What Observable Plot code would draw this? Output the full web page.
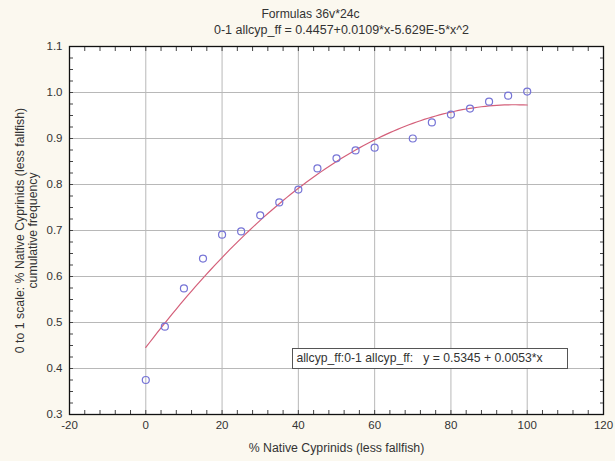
<!DOCTYPE html>
<html>
<head>
<meta charset="utf-8">
<script src="https://cdn.jsdelivr.net/npm/d3@7"></script>
<script src="https://cdn.jsdelivr.net/npm/@observablehq/plot@0.6"></script>
<style>
  html, body { margin: 0; padding: 0; background: #fbf8ef; }
  #wrap { position: relative; width: 615px; height: 461px; font-family: "Liberation Sans", Arial, sans-serif; }
  #legend { position: absolute; left: 292px; top: 348px; width: 274px; height: 19px; border: 1px solid #555; background: #fff;
            font-size: 12.2px; color: #333; line-height: 19px; box-sizing: content-box; padding-left: 0; white-space: pre; }
</style>
</head>
<body>
<div id="wrap"></div>
<script>
const title1 = "Formulas 36v*24c";
const title2 = "0-1 allcyp_ff = 0.4457+0.0109*x-5.629E-5*x^2";
const xLabel = "% Native Cyprinids (less fallfish)";
const yLabel = "0 to 1 scale: % Native Cyprinids (less fallfish)\ncumulative frequency";
const legendText = " allcyp_ff:0-1 allcyp_ff:   y = 0.5345 + 0.0053*x";

const xTicks = [-20, 0, 20, 40, 60, 80, 100, 120];
const yTicks = [0.3, 0.4, 0.5, 0.6, 0.7, 0.8, 0.9, 1.0, 1.1];
const xMinor = d3.range(-20, 121, 4);
const yMinor = d3.range(0.3, 1.1001, 0.025);

const pctNative = [0, 5, 10, 15, 20, 25, 30, 35, 40, 45, 50, 55, 60, 70, 75, 80, 85, 90, 95, 100];
const cumFreq   = [0.375, 0.491, 0.574, 0.639, 0.691, 0.698, 0.733, 0.761, 0.789, 0.835, 0.857, 0.874, 0.880, 0.900, 0.935, 0.952, 0.965, 0.980, 0.993, 1.002];

// fitted curve coefficients stated in the chart title
const fitCoef = [0.4457, 0.0109, -5.629e-5];
const fitX = d3.range(0, 100.01, 1);

const points = pctNative.map((x, i) => ({x, y: cumFreq[i]}));
const curve = fitX.map(x => ({x, y: fitCoef[0] + fitCoef[1] * x + fitCoef[2] * x * x}));

const chart = Plot.plot({
  width: 615,
  height: 461,
  marginLeft: 69,
  marginRight: 12,
  marginTop: 46,
  marginBottom: 47,
  style: {background: "transparent", fontFamily: "Liberation Sans, Arial, sans-serif", fontSize: "11px", color: "#333"},
  x: {domain: [-20, 120]},
  y: {domain: [0.3, 1.1]},
  marks: [
    Plot.frame({fill: "white", stroke: "none"}),
    Plot.gridX(xTicks, {stroke: "#b8b8b8", strokeOpacity: 1}),
    Plot.gridY(yTicks, {stroke: "#b8b8b8", strokeOpacity: 1}),
    Plot.axisX(xMinor, {anchor: "bottom", tickSize: -4, tickFormat: () => "", label: null, stroke: "#444"}),
    Plot.axisX(xMinor, {anchor: "top", tickSize: -4, tickFormat: () => "", label: null, stroke: "#444"}),
    Plot.axisY(yMinor, {anchor: "left", tickSize: -4, tickFormat: () => "", label: null, stroke: "#444"}),
    Plot.axisY(yMinor, {anchor: "right", tickSize: -4, tickFormat: () => "", label: null, stroke: "#444"}),
    Plot.axisX(xTicks, {anchor: "bottom", tickSize: 0, tickPadding: 6, tickFormat: d => String(d), label: null, fill: "#333", fontSize: 11.5}),
    Plot.axisY(yTicks, {anchor: "left", tickSize: 0, tickPadding: 7, tickFormat: d3.format(".1f"), label: null, fill: "#333", fontSize: 11.5}),
    Plot.line(curve, {x: "x", y: "y", stroke: "#d4607a", strokeWidth: 1.2}),
    Plot.dot(points, {x: "x", y: "y", r: 3.5, stroke: "#7674d6", strokeWidth: 1.2, fill: "none"}),
    Plot.frame({stroke: "#111", strokeWidth: 1.3}),
    Plot.text([xLabel], {text: d => d, frameAnchor: "bottom", dy: 37, fill: "#333", fontSize: 12.3}),
    Plot.text([yLabel], {text: d => d, frameAnchor: "left", textAnchor: "middle", rotate: -90, dx: -43, fill: "#333", fontSize: 12.3, lineHeight: 1.0}),
    Plot.text([title1], {text: d => d, frameAnchor: "top", dy: -37, dx: -26, fill: "#333", fontSize: 12.2}),
    Plot.text([title2], {text: d => d, frameAnchor: "top", dy: -21, dx: 5, fill: "#333", fontSize: 12.5})
  ]
});

const wrap = document.getElementById("wrap");
wrap.appendChild(chart);
const leg = document.createElement("div");
leg.id = "legend";
leg.textContent = legendText;
wrap.appendChild(leg);
</script>
</body>
</html>
